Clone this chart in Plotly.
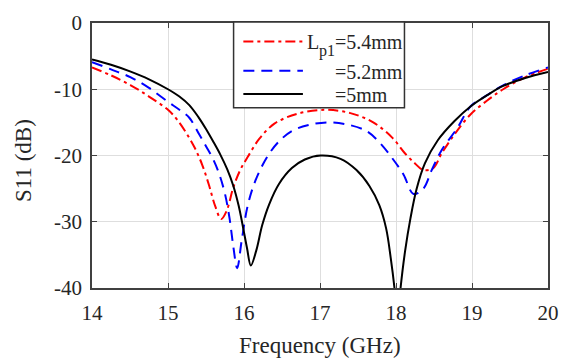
import plotly.graph_objects as go

# ---- data ----
freq_54 = [14.0, 14.25, 14.51, 14.75, 15.0, 15.12, 15.24, 15.35, 15.45, 15.54, 15.62, 15.70, 15.77, 15.86,
           15.95, 16.05, 16.2, 16.4, 16.7, 17.06, 17.4, 17.7, 17.95, 18.12, 18.25, 18.36, 18.49, 18.6,
           18.77, 18.98, 19.2, 19.41, 19.7, 20.0]
s11_54 = [-6.7, -7.9, -9.4, -11.1, -13.1, -14.6, -16.6, -18.8, -21.4, -24.5, -27.6, -29.6, -28.4, -24.8,
          -22.2, -20.2, -17.5, -15.2, -13.7, -13.1, -13.6, -15.0, -17.3, -19.7, -21.2, -22.2, -21.9, -19.7,
          -16.8, -13.8, -11.7, -10.0, -8.2, -6.9]

freq_52 = [14.0, 14.25, 14.51, 14.75, 15.0, 15.15, 15.28, 15.41, 15.5, 15.6, 15.68, 15.75, 15.81, 15.86,
           15.91, 15.97, 16.05, 16.15, 16.3, 16.45, 16.63, 16.85, 17.1, 17.35, 17.61, 17.78, 17.95, 18.1,
           18.23, 18.36, 18.47, 18.6, 18.81, 18.98, 19.2, 19.41, 19.7, 20.0]
s11_52 = [-5.9, -7.0, -8.2, -9.8, -11.9, -13.1, -14.3, -16.8, -18.6, -20.7, -23.0, -25.8, -29.5, -33.8,
          -37.0, -32.8, -27.5, -23.8, -20.3, -18.0, -16.3, -15.4, -15.0, -15.3, -16.3, -18.0, -20.4, -22.9,
          -25.8, -25.0, -22.2, -19.2, -15.8, -12.6, -10.9, -9.4, -7.9, -6.7]

freq_50 = [14.0, 14.25, 14.5, 14.75, 15.0, 15.15, 15.28, 15.4, 15.5, 15.6, 15.69, 15.78, 15.86, 15.93,
           15.99, 16.04, 16.09, 16.16, 16.24, 16.33, 16.46, 16.63, 16.8, 17.01, 17.27, 17.48, 17.65, 17.78,
           17.87, 17.93, 17.98, 18.02, 18.06, 18.12, 18.19, 18.27, 18.38, 18.55, 18.77, 18.98, 19.2, 19.41,
           19.7, 20.0]
s11_50 = [-5.5, -6.3, -7.3, -8.5, -10.0, -11.1, -12.4, -14.2, -16.0, -18.0, -19.9, -22.1, -24.6, -27.6,
          -31.0, -34.0, -36.6, -34.4, -30.5, -27.4, -24.3, -21.9, -20.6, -20.0, -20.5, -22.2, -24.6, -27.5,
          -31.0, -35.4, -40.0, -45.0, -40.0, -34.4, -29.5, -25.1, -21.2, -17.7, -14.8, -12.6, -10.9, -9.5,
          -8.3, -7.4]

x_ticks = [14, 15, 16, 17, 18, 19, 20]
y_ticks = [0, -10, -20, -30, -40]
legend_values = ["=5.4mm", "=5.2mm", "=5mm"]

FONT = "Liberation Serif"
TXT = "#262626"
W, H = 570, 364
L, R, T, B = 92, 11, 16, 76
PW, PH = W - L - R, H - T - B


def px(x):
    return (x - L) / PW


def py(y):
    return (H - B - y) / PH


fig = go.Figure()
styles = [("red", "10px,4px,3px,4px"), ("blue", "11px,7px"), ("black", "solid")]
for (fx, sy), (c, d) in zip([(freq_54, s11_54), (freq_52, s11_52), (freq_50, s11_50)], styles):
    fig.add_trace(go.Scatter(x=fx, y=sy, mode="lines",
                             line=dict(color=c, width=2, dash=d, shape="spline", smoothing=1.0),
                             showlegend=False))

axis_common = dict(showgrid=True, gridcolor="#dedede", gridwidth=1, showline=True,
                   linecolor="#404040", linewidth=1.5, mirror="ticks", ticks="inside",
                   ticklen=5, tickcolor="#404040", tickwidth=1,
                   tickfont=dict(family=FONT, size=21, color=TXT), zeroline=False)

fig.update_xaxes(range=[14, 20], tickvals=x_ticks, ticktext=[str(v) for v in x_ticks],
                 ticklabelstandoff=5, **axis_common)
fig.update_yaxes(range=[-40, 0], tickvals=y_ticks, ticktext=[str(v) for v in y_ticks],
                 ticklabelstandoff=4, **axis_common)

shapes = []
# legend box
shapes.append(dict(type="rect", xref="paper", yref="paper", x0=px(237), x1=px(412), y0=py(103), y1=py(15),
                   line=dict(color="#333333", width=1.5), fillcolor="white", layer="above"))
for (c, d), yy in zip(styles, [35, 65, 89]):
    shapes.append(dict(type="line", xref="paper", yref="paper", x0=px(247), x1=px(308), y0=py(yy), y1=py(yy),
                       line=dict(color=c, width=2, dash=d), layer="above"))

ann = []
for txt, yy in zip(legend_values, [35, 66, 90]):
    ann.append(dict(text=txt, xref="paper", yref="paper", x=px(339), y=py(yy), xanchor="left", yanchor="middle",
                    showarrow=False, font=dict(family=FONT, size=20, color=TXT)))
ann.append(dict(text="L", xref="paper", yref="paper", x=px(310), y=py(35), xanchor="left", yanchor="middle",
                showarrow=False, font=dict(family=FONT, size=20, color=TXT)))
ann.append(dict(text="p1", xref="paper", yref="paper", x=px(322), y=py(45), xanchor="left", yanchor="middle",
                showarrow=False, font=dict(family=FONT, size=16, color=TXT)))
ann.append(dict(text="Frequency (GHz)", xref="paper", yref="paper", x=px(326), y=py(347), xanchor="center",
                yanchor="middle", showarrow=False, font=dict(family=FONT, size=23, color=TXT)))
ann.append(dict(text="S11 (dB)", xref="paper", yref="paper", x=px(22), y=py(157), xanchor="center",
                yanchor="middle", textangle=-90, showarrow=False, font=dict(family=FONT, size=23, color=TXT)))

fig.update_layout(width=W, height=H, margin=dict(l=L, r=R, t=T, b=B), paper_bgcolor="white",
                  plot_bgcolor="white", shapes=shapes, annotations=ann, showlegend=False)

fig.write_html("out.html")
